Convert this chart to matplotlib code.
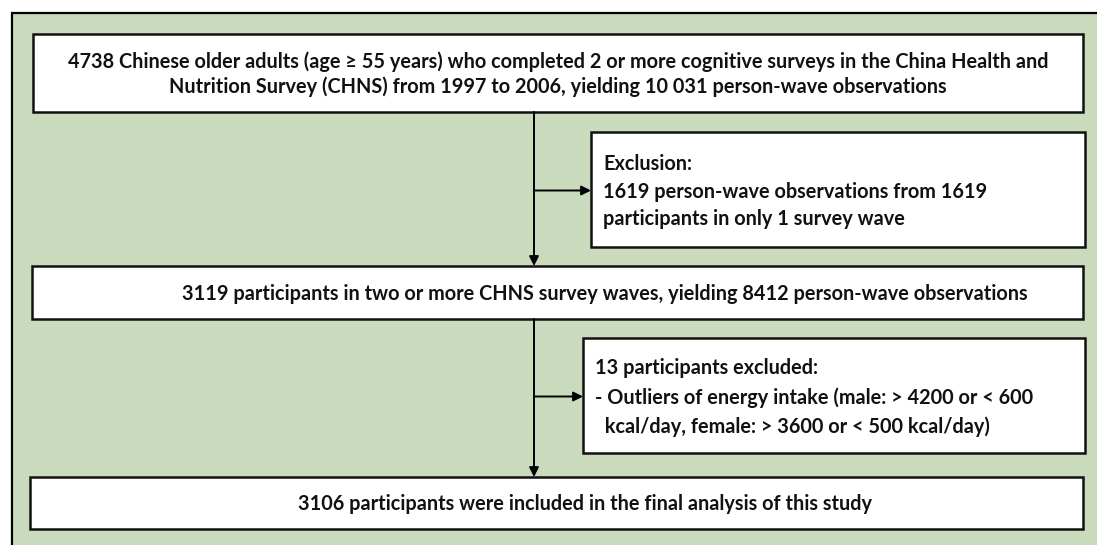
import matplotlib.pyplot as plt
from matplotlib.patches import Rectangle

# texts of the flow boxes
main_texts = [
    "4738 Chinese older adults (age \u2265 55 years) who completed 2 or more cognitive surveys in the China Health and\n"
    "Nutrition Survey (CHNS) from 1997 to 2006, yielding 10 031 person-wave observations",
    "3119 participants in two or more CHNS survey waves, yielding 8412 person-wave observations",
    "3106 participants were included in the final analysis of this study",
]
side_texts = [
    "Exclusion:\n1619 person-wave observations from 1619\nparticipants in only 1 survey wave",
    "13 participants excluded:\n- Outliers of energy intake (male: > 4200 or < 600\n  kcal/day, female: > 3600 or < 500 kcal/day)",
]

# layout in pixels (x0, y0, x1, y1)
main_boxes = [(33, 34, 1083, 112), (32, 266, 1083, 319), (30, 477, 1083, 529)]
main_text_x = [558, 605, 585]
side_boxes = [(591, 132, 1085, 247), (583, 338, 1085, 453)]
side_text_x = [603, 595]
side_spacing = [1.45, 1.55]
spine_x = 534
green = "#cadbbd"

fig = plt.figure(figsize=(10.97, 5.45), dpi=100)
ax = fig.add_axes([0, 0, 1, 1])
ax.set_xlim(0, 1097)
ax.set_ylim(545, 0)
ax.axis("off")

# outer green panel (runs off right and bottom)
ax.add_patch(Rectangle((12, 13), 1200, 600, facecolor=green, edgecolor="black", lw=1.6))

font = dict(family="Lato", weight="bold", fontsize=14.3, color="#111111")

for (x0, y0, x1, y1), txt, tx in zip(main_boxes, main_texts, main_text_x):
    ax.add_patch(Rectangle((x0, y0), x1 - x0, y1 - y0, facecolor="white",
                           edgecolor="#111111", lw=1.8))
    ax.text(tx, (y0 + y1) / 2 + 1, txt, ha="center", va="center",
            linespacing=1.3, **font)

for (x0, y0, x1, y1), txt, tx, ls in zip(side_boxes, side_texts, side_text_x, side_spacing):
    ax.add_patch(Rectangle((x0, y0), x1 - x0, y1 - y0, facecolor="white",
                           edgecolor="#111111", lw=1.8))
    ax.text(tx, (y0 + y1) / 2 + 2, txt, ha="left", va="center",
            linespacing=ls, **font)
    # side arrow from the spine
    ax.annotate("", xy=(x0, (y0 + y1) / 2 + 1), xytext=(spine_x, (y0 + y1) / 2 + 1),
                arrowprops=dict(arrowstyle="-|>", color="black", lw=1.4,
                                mutation_scale=14, shrinkA=0, shrinkB=0))

# vertical arrows between main boxes
for (a, b) in zip(main_boxes[:-1], main_boxes[1:]):
    ax.annotate("", xy=(spine_x, b[1]), xytext=(spine_x, a[3]),
                arrowprops=dict(arrowstyle="-|>", color="black", lw=1.4,
                                mutation_scale=14, shrinkA=0, shrinkB=0))

fig.savefig("out.png", dpi=100)
